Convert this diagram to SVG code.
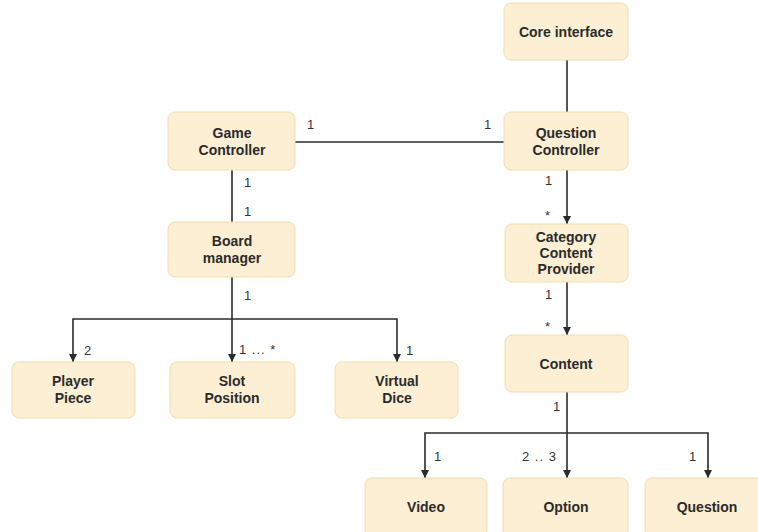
<svg xmlns="http://www.w3.org/2000/svg" width="758" height="532" viewBox="0 0 758 532">
<style>
.box{fill:#fcefd3;stroke:#f1dcb0;stroke-width:1}
.t{font-family:"Liberation Sans",Arial,sans-serif;font-weight:bold;font-size:14px;fill:#2b2b2b;text-anchor:middle}
.l{font-family:"Liberation Sans",Arial,sans-serif;font-size:13px;fill:#333}
.w{letter-spacing:1px}
.c{fill:none;stroke:#2b2b2b;stroke-width:1.6}
</style>
<defs>
<marker id="arr" viewBox="0 0 10 10" refX="10" refY="5" markerWidth="8" markerHeight="8" markerUnits="userSpaceOnUse" orient="auto">
<path d="M0,0 L10,5 L0,10 z" fill="#2b2b2b"/>
</marker>
</defs>
<rect width="758" height="532" fill="#ffffff"/>
<g id="connectors">
<path class="c" d="M567,60 V112"/>
<path class="c" d="M295,142 H504"/>
<path class="c" d="M232,170 V222"/>
<path class="c" d="M232,277 V362" marker-end="url(#arr)"/>
<path class="c" d="M232,319 H73 V362" marker-end="url(#arr)"/>
<path class="c" d="M232,319 H397 V362" marker-end="url(#arr)"/>
<path class="c" d="M567,170 V224" marker-end="url(#arr)"/>
<path class="c" d="M567,282 V335" marker-end="url(#arr)"/>
<path class="c" d="M567,392 V478" marker-end="url(#arr)"/>
<path class="c" d="M567,433 H425 V478" marker-end="url(#arr)"/>
<path class="c" d="M567,433 H708 V478" marker-end="url(#arr)"/>
</g>
<g id="labels">
<text class="l" x="307" y="129">1</text>
<text class="l" x="484" y="129">1</text>
<text class="l" x="244" y="187">1</text>
<text class="l" x="244" y="216">1</text>
<text class="l" x="244" y="300">1</text>
<text class="l" x="84" y="355">2</text>
<text class="l w" x="239" y="354">1 ... *</text>
<text class="l" x="406" y="355">1</text>
<text class="l" x="545" y="185">1</text>
<text class="l" x="545" y="220">*</text>
<text class="l" x="545" y="299">1</text>
<text class="l" x="545" y="331">*</text>
<text class="l" x="553" y="411">1</text>
<text class="l" x="434" y="461">1</text>
<text class="l w" x="522" y="461">2 .. 3</text>
<text class="l" x="689" y="461">1</text>
</g>
<g id="core-interface"><rect class="box" x="504" y="3" width="124" height="57" rx="7"/><text class="t" x="566" y="37">Core interface</text></g>
<g id="question-controller"><rect class="box" x="504" y="112" width="124" height="58" rx="7"/><text class="t" x="566" y="138">Question</text><text class="t" x="566" y="155">Controller</text></g>
<g id="game-controller"><rect class="box" x="168" y="112" width="127" height="58" rx="7"/><text class="t" x="232" y="138">Game</text><text class="t" x="232" y="155">Controller</text></g>
<g id="board-manager"><rect class="box" x="168" y="222" width="127" height="55" rx="7"/><text class="t" x="232" y="246">Board</text><text class="t" x="232" y="263">manager</text></g>
<g id="player-piece"><rect class="box" x="12" y="362" width="123" height="56" rx="7"/><text class="t" x="73" y="386">Player</text><text class="t" x="73" y="403">Piece</text></g>
<g id="slot-position"><rect class="box" x="170" y="362" width="125" height="56" rx="7"/><text class="t" x="232" y="386">Slot</text><text class="t" x="232" y="403">Position</text></g>
<g id="virtual-dice"><rect class="box" x="335" y="362" width="123" height="56" rx="7"/><text class="t" x="397" y="386">Virtual</text><text class="t" x="397" y="403">Dice</text></g>
<g id="category-content-provider"><rect class="box" x="505" y="224" width="123" height="58" rx="7"/><text class="t" x="566" y="242">Category</text><text class="t" x="566" y="258">Content</text><text class="t" x="566" y="274">Provider</text></g>
<g id="content"><rect class="box" x="505" y="335" width="123" height="57" rx="7"/><text class="t" x="566" y="369">Content</text></g>
<g id="video"><rect class="box" x="365" y="478" width="122" height="60" rx="7"/><text class="t" x="426" y="512">Video</text></g>
<g id="option"><rect class="box" x="503" y="478" width="125" height="60" rx="7"/><text class="t" x="566" y="512">Option</text></g>
<g id="question"><rect class="box" x="645" y="478" width="125" height="60" rx="7"/><text class="t" x="707" y="512">Question</text></g>
</svg>
